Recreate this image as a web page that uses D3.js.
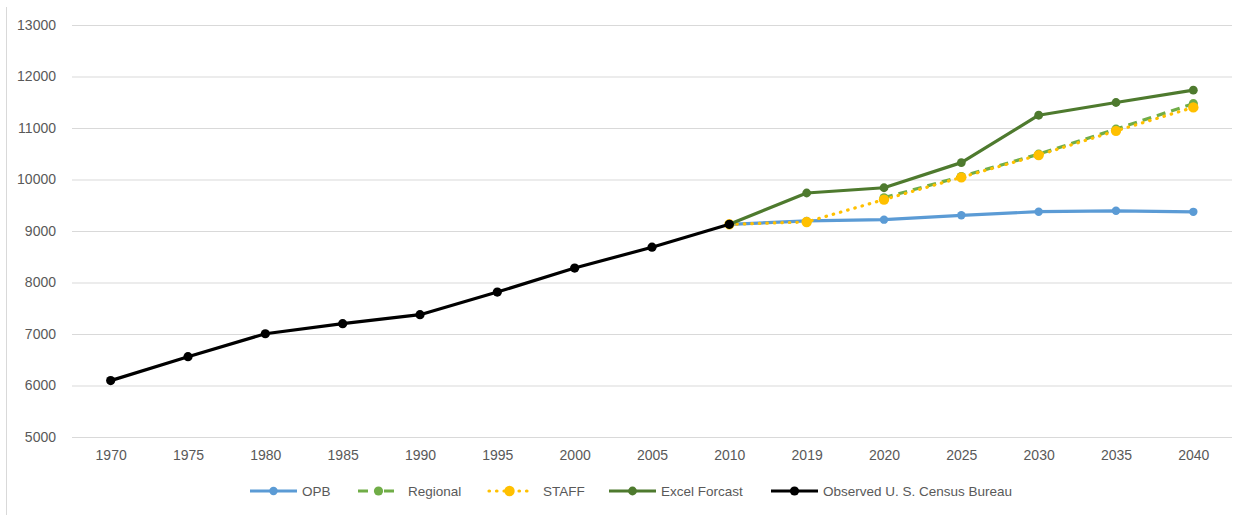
<!DOCTYPE html>
<html><head><meta charset="utf-8">
<script src="https://cdn.jsdelivr.net/npm/d3@7"></script>
<style>
body{margin:0;background:#fff}
svg{display:block}
text{font-family:"Liberation Sans",Arial,sans-serif;fill:#595959;font-size:14px}
</style>
</head><body>
<svg id="c" width="1242" height="515"></svg>
<script>
const years = ["1970","1975","1980","1985","1990","1995","2000","2005","2010","2019","2020","2025","2030","2035","2040"];
const observed = [6095,6560,7005,7200,7375,7815,8280,8685,9130,null,null,null,null,null,null];
const opb      = [null,null,null,null,null,null,null,null,9130,9195,9220,9305,9375,9392,9372];
const regional = [null,null,null,null,null,null,null,null,null,null,9645,10058,10492,10978,11472];
const staff    = [null,null,null,null,null,null,null,null,9130,9175,9610,10042,10474,10945,11400];
const excel    = [null,null,null,null,null,null,null,null,9130,9738,9840,10328,11248,11495,11735];
const yTicks   = [5000,6000,7000,8000,9000,10000,11000,12000,13000];
const seriesNames = ["OPB","Regional","STAFF","Excel Forcast","Observed U. S. Census Bureau"];

const series = [
  {name:seriesNames[0], values:opb,      color:"#5B9BD5", dash:null,      cap:"round", r:4.2},
  {name:seriesNames[1], values:regional, color:"#70AD47", dash:"9,6",     cap:"butt",  r:4.6},
  {name:seriesNames[2], values:staff,    color:"#FFC000", dash:"0.5,7",   cap:"round", r:5.2},
  {name:seriesNames[3], values:excel,    color:"#4E7A2E", dash:null,      cap:"round", r:4.4},
  {name:seriesNames[4], values:observed, color:"#000000", dash:null,      cap:"round", r:4.6}
];

const svg = d3.select("#c");
const x = d3.scalePoint().domain(years).range([72,1232]).padding(0.5);
const y = d3.scaleLinear().domain([5000,13000]).range([437,25]);

// left border
svg.append("line").attr("x1",6.5).attr("x2",6.5).attr("y1",7).attr("y2",515)
  .attr("stroke","#d9d9d9").attr("stroke-width",1);

// gridlines + y labels
const yAxis = d3.axisLeft(y).tickValues(yTicks).tickSize(-(1232-72)).tickPadding(16).tickFormat(d3.format("d"));
const gy = svg.append("g").attr("transform","translate(72,0)").call(yAxis);
gy.select(".domain").remove();
gy.selectAll(".tick line").attr("stroke","#d9d9d9").attr("stroke-width",1);
gy.selectAll(".tick text").attr("fill","#595959").style("font-size","14px").style("font-family","'Liberation Sans',Arial,sans-serif");

// x axis labels
const xAxis = d3.axisBottom(x).tickSize(0).tickPadding(13);
const gx = svg.append("g").attr("transform","translate(0,437)").call(xAxis);
gx.select(".domain").remove();
gx.selectAll(".tick text").attr("fill","#595959").style("font-size","14px").style("font-family","'Liberation Sans',Arial,sans-serif");

const line = d3.line().defined(d=>d.v!=null).x(d=>x(d.k)).y(d=>y(d.v));

series.forEach(s=>{
  const pts = years.map((k,i)=>({k, v:s.values[i]}));
  svg.append("path").datum(pts).attr("d",line)
    .attr("fill","none").attr("stroke",s.color).attr("stroke-width",3.2)
    .attr("stroke-linejoin","round").attr("stroke-linecap",s.cap)
    .attr("stroke-dasharray",s.dash);
  svg.append("g").selectAll("circle").data(pts.filter(d=>d.v!=null)).join("circle")
    .attr("cx",d=>x(d.k)).attr("cy",d=>y(d.v)).attr("r",s.r).attr("fill",s.color);
});

// legend
const legX = [250,358,489,609,771];
const legY = 491;
const lg = svg.append("g");
series.forEach((s,i)=>{
  const g = lg.append("g").attr("transform",`translate(${legX[i]},${legY})`);
  if(s.dash==="9,6"){
    g.append("line").attr("x1",0).attr("x2",41).attr("y1",0).attr("y2",0)
      .attr("stroke",s.color).attr("stroke-width",3.2).attr("stroke-dasharray","10,5.5,0,10.5,10");
  } else {
    g.append("line").attr("x1",0).attr("x2",s.dash?41:47).attr("y1",0).attr("y2",0)
      .attr("stroke",s.color).attr("stroke-width",3.2).attr("stroke-linecap",s.cap==="round"&&s.dash?"round":"butt")
      .attr("stroke-dasharray",s.dash);
  }
  const w = s.dash? 41 : 47;
  g.append("circle").attr("cx",w/2).attr("cy",0).attr("r",s.r).attr("fill",s.color);
  g.append("text").attr("x", s.dash? (i===1?50:54) : 52).attr("y",0).attr("dy","0.35em")
    .style("font-size","13.5px").text(s.name);
});
</script>
</body></html>
